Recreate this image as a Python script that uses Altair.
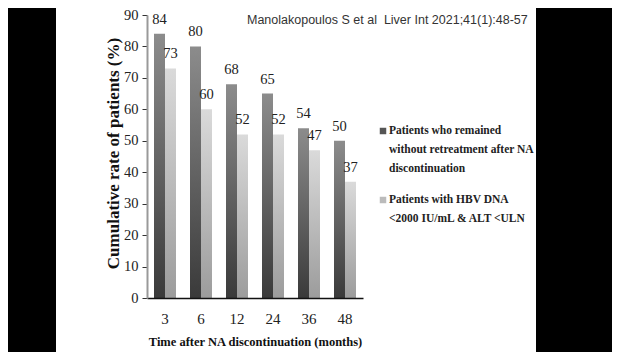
import altair as alt
import pandas as pd

months = ["3", "6", "12", "24", "36", "48"]
remained = [84, 80, 68, 65, 54, 50]
hbv_low = [73, 60, 52, 52, 47, 37]
series_names = [
    "Patients who remained\nwithout retreatment after NA\ndiscontinuation",
    "Patients with HBV DNA\n<2000 IU/mL & ALT <ULN",
]
citation = "Manolakopoulos S et al\u00a0\u00a0Liver Int 2021;41(1):48-57"
y_title = "Cumulative rate of patients (%)"
x_title = "Time after NA discontinuation (months)"

df = pd.DataFrame({"month": months, "remained": remained, "hbv": hbv_low})
one = pd.DataFrame({"k": [0]})

SERIF = "Liberation Serif"
TOP = 7

x_axis = alt.Axis(
    title=x_title,
    labelAngle=0,
    labelFont=SERIF,
    labelFontSize=15,
    labelColor="#222",
    labelPadding=13,
    tickSize=0,
    domainColor="#111",
    domainWidth=1.5,
    titleFont=SERIF,
    titleFontSize=12.5,
    titleFontWeight="bold",
    titleColor="#111",
    titlePadding=9,
    zindex=2,
)
x_scale = alt.Scale(paddingInner=0.4, paddingOuter=0.2)

y_axis = alt.Axis(
    title=y_title,
    values=list(range(0, 91, 10)),
    labelOverlap=False,
    labelFont=SERIF,
    labelFontSize=14.5,
    labelColor="#222",
    labelPadding=4,
    tickSize=5,
    tickColor="#333",
    domainColor="#999",
    domainWidth=2,
    grid=False,
    titleFont=SERIF,
    titleFontSize=17,
    titleFontWeight="bold",
    titleColor="#111",
    titleX=-34,
    titleY=138,
    titleAngle=-90,
    titleAlign="center",
    titleBaseline="middle",
    zindex=2,
)
y_scale = alt.Scale(domain=[0, 90])


def xe():
    return alt.X("month:N", sort=months, scale=x_scale, axis=x_axis)


def ye(field):
    return alt.Y(field, type="quantitative", scale=y_scale, axis=y_axis)


dark_grad = alt.Gradient(
    gradient="linear", x1=0, y1=0, x2=0, y2=1,
    stops=[alt.GradientStop(color="#8c8c8c", offset=0), alt.GradientStop(color="#3a3a3a", offset=1)],
)
light_grad = alt.Gradient(
    gradient="linear", x1=0, y1=0, x2=0, y2=1,
    stops=[alt.GradientStop(color="#dadada", offset=0), alt.GradientStop(color="#9c9c9c", offset=1)],
)

bg = alt.Chart(one).mark_rect(color="white").encode(
    x=alt.value(-91), x2=alt.value(389), y=alt.value(-TOP), y2=alt.value(340)
)

base = alt.Chart(df)
bars1 = base.mark_bar(color=dark_grad, width=11, xOffset=-5.5).encode(x=xe(), y=ye("remained"))
bars2 = base.mark_bar(color=light_grad, width=11, xOffset=5.5).encode(x=xe(), y=ye("hbv"))
lab1 = base.mark_text(font=SERIF, fontSize=14.5, color="#222", baseline="bottom", dy=-7, xOffset=-5.5).encode(
    x=xe(), y=ye("remained"), text="remained:Q"
)
lab2 = base.mark_text(font=SERIF, fontSize=14.5, color="#222", baseline="bottom", dy=-7, xOffset=5.5).encode(
    x=xe(), y=ye("hbv"), text="hbv:Q"
)

cite = alt.Chart(one).mark_text(
    text=citation, font="Liberation Sans", fontSize=12.5, color="#333", align="left", baseline="middle"
).encode(x=alt.value(100), y=alt.value(5))

leg_sq1 = alt.Chart(one).mark_square(size=42, color="#555", opacity=1).encode(
    x=alt.value(236), y=alt.value(116)
)
leg_sq2 = alt.Chart(one).mark_square(size=42, color="#bbb", opacity=1).encode(
    x=alt.value(236), y=alt.value(185)
)
leg_t1 = alt.Chart(one).mark_text(
    text=series_names[0].split("\n"), font=SERIF, fontSize=11.5, fontWeight="bold", color="#222",
    align="left", baseline="middle", lineHeight=19,
).encode(x=alt.value(242), y=alt.value(116))
leg_t2 = alt.Chart(one).mark_text(
    text=series_names[1].split("\n"), font=SERIF, fontSize=11.5, fontWeight="bold", color="#222",
    align="left", baseline="middle", lineHeight=19,
).encode(x=alt.value(242), y=alt.value(185))

chart = alt.layer(
    bg, bars1, bars2, lab1, lab2, cite, leg_sq1, leg_sq2, leg_t1, leg_t2
).properties(
    width=216,
    height=283,
    autosize="none",
    padding={"left": 139, "top": TOP, "right": 249, "bottom": 54},
    background="black",
).configure_view(stroke=None)

chart.save("out.html", embed_options={"renderer": "svg", "actions": False})
